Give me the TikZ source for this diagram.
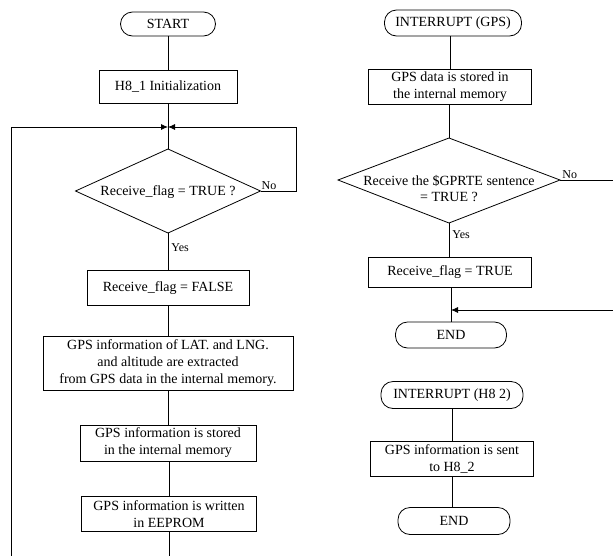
\documentclass[tikz,border=0pt]{standalone}
\usepackage{fontspec}
\setmainfont{Liberation Serif}
\usetikzlibrary{arrows.meta}
\begin{document}
\begin{tikzpicture}[x=1pt,y=-1pt,
  every node/.style={font=\fontsize{14}{17}\selectfont, inner sep=0pt, align=center},
  term/.style={draw, rounded corners=12pt, line width=0.8pt},
  procbox/.style={draw, line width=0.8pt},
  lbl/.style={font=\fontsize{12}{14}\selectfont},
  conn/.style={line width=0.8pt},
  arr/.style={conn, -{Latex[length=7pt,width=6pt]}}]
\useasboundingbox (0,0) rectangle (613,555);
\clip (0,0) rectangle (613,555);
% left column
\node[term, minimum width=95pt, minimum height=24pt] (start) at (168,24) {START};
\node[procbox, minimum width=138pt, minimum height=33pt] (init) at (168,87) {H8\_1 Initialization};
\coordinate (m1) at (168,127);
\node (d1) at (168,192) {Receive\_flag = TRUE ?};
\coordinate (d1n) at (168,149);
\coordinate (d1s) at (168,233);
\coordinate (d1e) at (260.5,191);
\coordinate (d1w) at (75.5,191);
\draw[conn] (d1n) -- (d1e) -- (d1s) -- (d1w) -- cycle;
\node[procbox, minimum width=162pt, minimum height=35pt] (rf) at (168,288) {Receive\_flag = FALSE};
\node[procbox, minimum width=250pt, minimum height=54pt] (ext) at (168,363) {GPS information of LAT. and LNG.\\and altitude are extracted\\from GPS data in the internal memory.};
\node[procbox, minimum width=176pt, minimum height=36pt] (sto) at (168,443) {GPS information is stored\\in the internal memory};
\node[procbox, minimum width=175pt, minimum height=35pt] (eep) at (169,514) {GPS information is written\\in EEPROM};
\coordinate (eb) at (169,560);
\coordinate (lb) at (11,560);
\draw[conn] (start) -- (init);
\draw[conn] (init) -- (d1n);
\draw[conn] (d1s) -- node[lbl, pos=0.4, anchor=west, xshift=3pt] {Yes} (rf);
\draw[conn] (rf) -- (ext);
\draw[conn] (ext) -- (sto);
\draw[conn] (sto.south -| eep.north) -- (eep);
\draw[conn] (eep) -- (eb);
\draw[arr] (lb) |- (m1);
\draw[arr] (d1e) -- node[lbl, anchor=south west, pos=0.02, yshift=1pt] {No} ++(35.5,0) |- (m1);
% right column
\node[term, minimum width=137pt, minimum height=26pt] (int1) at (453,23) {INTERRUPT (GPS)};
\node[procbox, minimum width=163pt, minimum height=35pt] (gd) at (450,87) {GPS data is stored in\\the internal memory};
\node[font=\fontsize{14}{16}\selectfont] (d2) at (449,189) {Receive the \$GPRTE sentence\\= TRUE ?};
\coordinate (d2n) at (449,138);
\coordinate (d2s) at (449,223);
\coordinate (d2e) at (560,180);
\coordinate (d2w) at (338,180);
\draw[conn] (d2n) -- (d2e) -- (d2s) -- (d2w) -- cycle;
\node[procbox, minimum width=163pt, minimum height=30pt] (rt) at (450,272) {Receive\_flag = TRUE};
\coordinate (m2) at (451,310);
\node[term, minimum width=111pt, minimum height=26pt] (end1) at (451,335) {END};
\draw[conn] (int1.south -| gd.north) -- (gd);
\draw[conn] (gd.south -| d2n) -- (d2n);
\draw[conn] (d2s) -- node[lbl, pos=0.35, anchor=west, xshift=3pt] {Yes} (d2s |- rt.north);
\draw[conn] (rt.south -| m2) -- (end1.north -| m2);
\draw[arr] (d2e) -- node[lbl, anchor=south west, pos=0.03, yshift=1pt] {No} (625,180) |- (m2);
\node[term, minimum width=142pt, minimum height=27pt] (int2) at (452,395) {INTERRUPT (H8 2)};
\node[procbox, minimum width=163pt, minimum height=35pt] (snd) at (452,459) {GPS information is sent\\to H8\_2};
\node[term, minimum width=112pt, minimum height=27pt] (end2) at (454,521) {END};
\draw[conn] (int2) -- (snd);
\draw[conn] (snd.south) -- (snd.south |- end2.north);
\end{tikzpicture}
\end{document}
